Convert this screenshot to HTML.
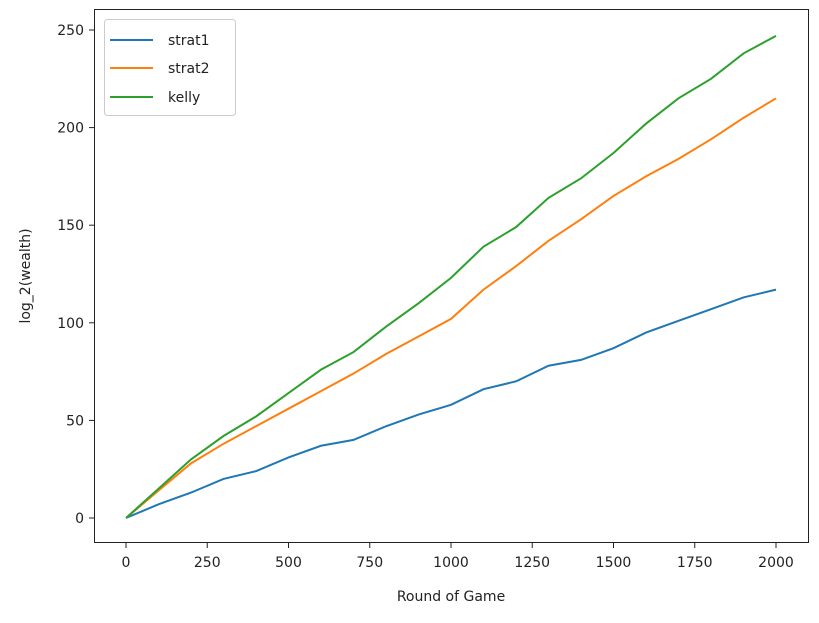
<!DOCTYPE html>
<html><head><meta charset="utf-8"><style>
body{margin:0;background:#fff;}
svg text{font-family:"DejaVu Sans","Liberation Sans",sans-serif;font-size:14px;fill:#222;}
</style></head><body>
<svg id="chart" width="819" height="618">
<rect x="94.5" y="9.5" width="714" height="533" fill="none" stroke="#222" stroke-width="1"/>
<g id="xt"></g>
<g id="yt"></g>
<g id="series"></g>
<text x="451" y="601" text-anchor="middle">Round of Game</text>
<text transform="translate(30,276) rotate(-90)" text-anchor="middle">log_2(wealth)</text>
<g>
<rect x="104.5" y="19.5" width="131" height="96" rx="3" fill="#fff" fill-opacity="0.8" stroke="#ccc"/>
<g><line x1="110" y1="40" x2="153" y2="40" stroke="#1f77b4" stroke-width="2"/><text x="168" y="45">strat1</text></g>
<g><line x1="110" y1="68" x2="153" y2="68" stroke="#ff7f0e" stroke-width="2"/><text x="168" y="73">strat2</text></g>
<g><line x1="110" y1="97" x2="153" y2="97" stroke="#2ca02c" stroke-width="2"/><text x="168" y="102">kelly</text></g>
</g>
</svg>
<script>
const rounds=[0,100,200,300,400,500,600,700,800,900,1000,1100,1200,1300,1400,1500,1600,1700,1800,1900,2000];
const strat1=[0,7,13,20,24,31,37,40,47,53,58,66,70,78,81,87,95,101,107,113,117];
const strat2=[0,14,28,38,47,56,65,74,84,93,102,117,129,142,153,165,175,184,194,205,215];
const kelly=[0,15,30,42,52,64,76,85,98,110,123,139,149,164,174,187,202,215,225,238,247];
const xTicks=[0,250,500,750,1000,1250,1500,1750,2000];
const yTicks=[0,50,100,150,200,250];
const NS="http://www.w3.org/2000/svg";
const X=v=>126+v*(650/2000);
const Y=v=>518-v*(488/250);
const xt=document.getElementById('xt'),yt=document.getElementById('yt'),sg=document.getElementById('series');
xTicks.forEach(t=>{
 const l=document.createElementNS(NS,'line');
 
 
 l.setAttribute('x1',X(t));l.setAttribute('x2',X(t));l.setAttribute('y1',543);l.setAttribute('y2',548);l.setAttribute('stroke','#222');
 xt.appendChild(l);
 const tx=document.createElementNS(NS,'text');
 
 
 tx.setAttribute('x',X(t));tx.setAttribute('y',567);tx.setAttribute('text-anchor','middle');tx.textContent=t;
 xt.appendChild(tx);
});
yTicks.forEach(t=>{
 const l=document.createElementNS(NS,'line');
 
 
 l.setAttribute('x1',89);l.setAttribute('x2',94);l.setAttribute('y1',Y(t));l.setAttribute('y2',Y(t));l.setAttribute('stroke','#222');
 yt.appendChild(l);
 const tx=document.createElementNS(NS,'text');
 
 
 tx.setAttribute('x',84);tx.setAttribute('y',Y(t)+5);tx.setAttribute('text-anchor','end');tx.textContent=t;
 yt.appendChild(tx);
});
[[strat1,'#1f77b4','strat1-line'],[strat2,'#ff7f0e','strat2-line'],[kelly,'#2ca02c','kelly-line']].forEach(([d,c,n])=>{
 const p=document.createElementNS(NS,'polyline');
 
 
 p.setAttribute('points',d.map((v,i)=>X(rounds[i])+','+Y(v)).join(' '));
 p.setAttribute('fill','none');p.setAttribute('stroke',c);p.setAttribute('stroke-width','2');
 sg.appendChild(p);
});
</script>
</body></html>
